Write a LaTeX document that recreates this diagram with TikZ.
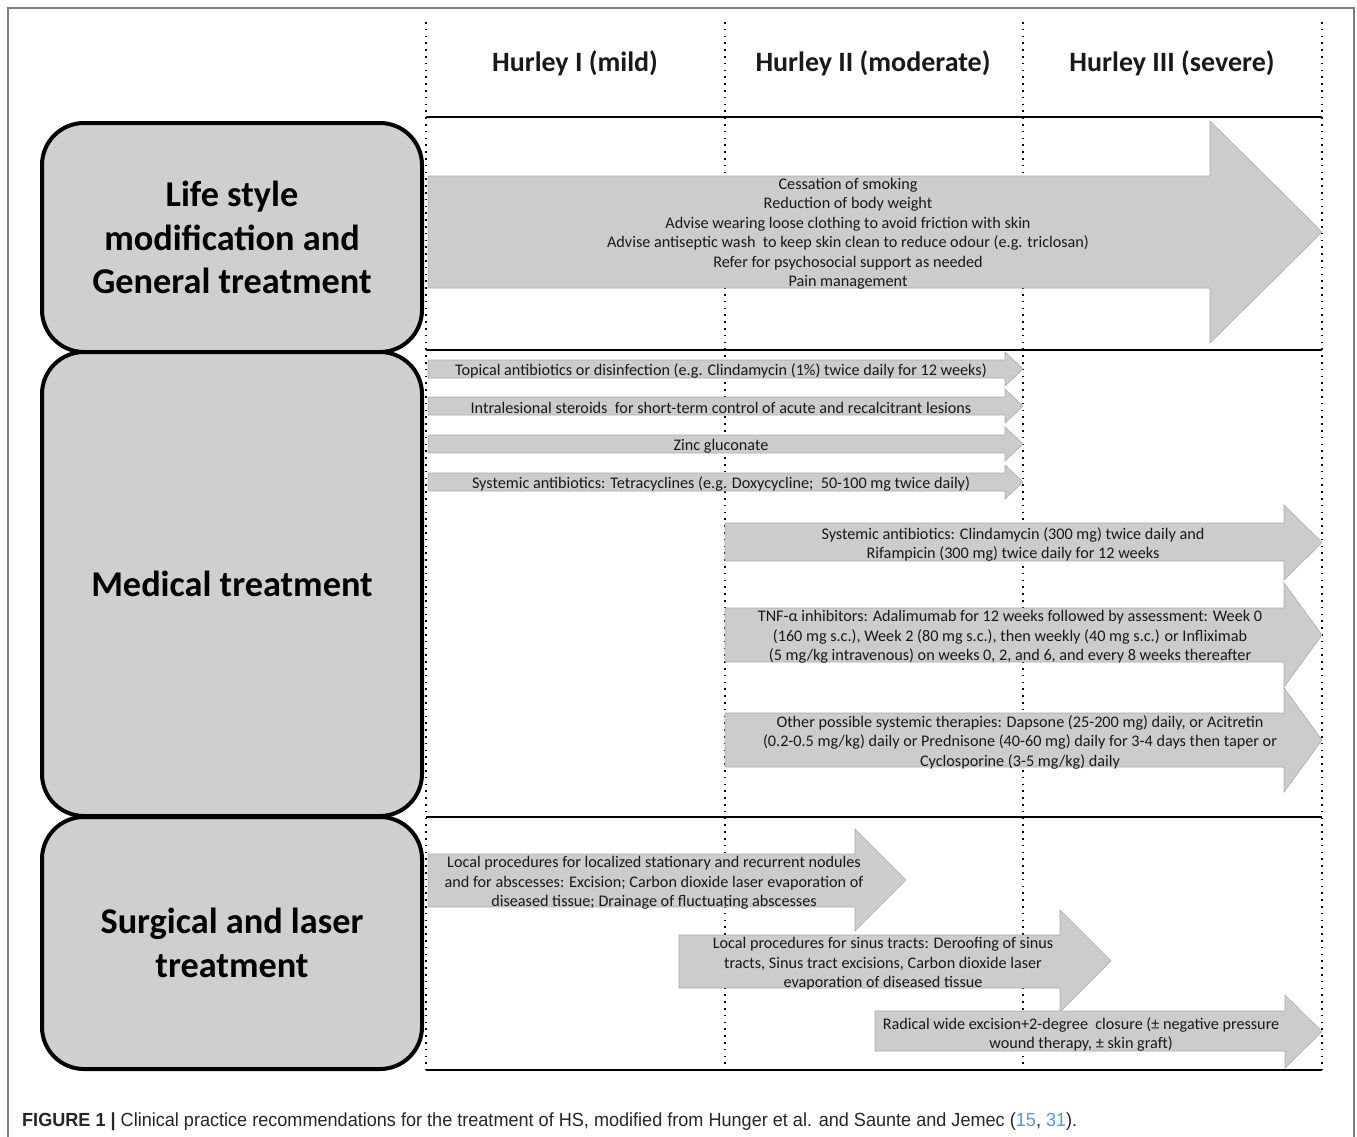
\documentclass[tikz,border=0pt]{standalone}
\usepackage{fontspec}
\setmainfont{Carlito}
\newfontfamily\capfont{Liberation Sans}
\usepackage{graphicx}
\usepackage{xcolor}
\usetikzlibrary{positioning,calc}

\definecolor{boxgray}{RGB}{208,206,206}
\definecolor{arrowgray}{RGB}{204,204,204}
\definecolor{arrowedge}{RGB}{170,170,170}
\definecolor{framegray}{RGB}{125,125,125}
\definecolor{citeblue}{RGB}{95,150,200}

\tikzset{
  catbox/.style={draw, line width=4pt, fill=boxgray, rounded corners=42pt,
    minimum width=380pt, align=center, font=\fontsize{36.3}{43.5}\selectfont\bfseries},
  hurley/.style={font=\fontsize{28}{32}\selectfont\bfseries, text=black!90},
  arrtext/.style={align=center, inner sep=0pt, yshift=-2pt,
    font=\fontsize{16.2}{19.5}\selectfont, text=black!90},
  treat/.style={fill=arrowgray, draw=arrowedge, line width=0.6pt},
  rule/.style={line width=2pt},
  griddots/.style={line width=1.6pt, dash pattern=on 1.6pt off 5.2pt}
}

% \tarrow{x start}{x head}{x tip}{shaft top}{shaft bottom}{head top}{head bottom}
\newcommand{\tarrow}[7]{%
  \draw[treat] (#1,#4) -- (#2,#4) -- (#2,#6) -- (#3,{(#6+#7)/2}) -- (#2,#7)
    -- (#2,#5) -- (#1,#5) -- cycle;}

\begin{document}
\begin{tikzpicture}[x=1pt, y=-1pt]
  \useasboundingbox (0,0) rectangle (1357,1136);
  % outer frame (open at the bottom)
  \draw[framegray, line width=1.5pt] (8,1140) -- (8,8) -- (1354,8) -- (1354,1140);

  % column separators
  \foreach \x in {426,725,1023,1322} {
    \draw[griddots] (\x,22) -- (\x,1070);
  }
  % row rules
  \foreach \y in {117,350,817,1070} {
    \draw[rule] (426,\y) -- (1322,\y);
  }

  % stage headers
  \node[hurley] (hurleyI) at (575,63) {Hurley I (mild)};
  \node[hurley] (hurleyII) at (873,63) {Hurley II (moderate)};
  \node[hurley] (hurleyIII) at (1172,63) {Hurley III (severe)};

  % category boxes
  \node[catbox, minimum height=229pt] (lifebox) at (232,237.5)
    {Life style\\modification and\\General treatment};
  \node[catbox, minimum height=464pt] (medbox) at (232,584) {Medical treatment};
  \node[catbox, minimum height=252pt] (surgbox) at (232,943)
    {Surgical and laser\\treatment};

  % life style arrow
  \tarrow{428}{1210}{1322}{176}{288}{121}{343}
  \node[arrtext] (lifetext) at (848,232) {Cessation of smoking\\Reduction of body weight\\
    Advise wearing loose clothing to avoid friction with skin\\
    Advise antiseptic wash\ \ to keep skin clean to reduce odour (e.g. triclosan)\\
    Refer for psychosocial support as needed\\Pain management};

  % medical arrows, Hurley I--II
  \tarrow{428}{1005}{1023}{360}{378}{352}{386}
  \node[arrtext] (topical) at (721,369)
    {Topical antibiotics or disinfection (e.g. Clindamycin (1\%) twice daily for 12 weeks)};
  \tarrow{428}{1005}{1023}{397}{415}{389}{423}
  \node[arrtext] (steroid) at (721,406)
    {Intralesional steroids\ \ for short-term control of acute and recalcitrant lesions};
  \tarrow{428}{1005}{1023}{435}{453}{427}{461}
  \node[arrtext] (zinc) at (721,444) {Zinc gluconate};
  \tarrow{428}{1005}{1023}{473}{491}{465}{499}
  \node[arrtext] (tetra) at (721,482)
    {Systemic antibiotics: Tetracyclines (e.g. Doxycycline;\ \ 50-100 mg twice daily)};

  % medical arrows, Hurley II--III
  \tarrow{725}{1284}{1322}{523}{561}{505}{580}
  \node[arrtext] (clinda) at (1013,542.5)
    {Systemic antibiotics: Clindamycin (300 mg) twice daily and\\
     Rifampicin (300 mg) twice daily for 12 weeks};
  \tarrow{725}{1284}{1322}{608}{662}{583}{687}
  \node[arrtext] (tnf) at (1010,635)
    {TNF-α inhibitors: Adalimumab for 12 weeks followed by assessment: Week 0\\
     (160 mg s.c.), Week 2 (80 mg s.c.), then weekly (40 mg s.c.) or Infliximab\\
     (5 mg/kg intravenous) on weeks 0, 2, and 6, and every 8 weeks thereafter};
  \tarrow{725}{1284}{1322}{713}{767}{688}{792}
  \node[arrtext] (other) at (1020,740)
    {Other possible systemic therapies: Dapsone (25-200 mg) daily, or Acitretin\\
     (0.2-0.5 mg/kg) daily or Prednisone (40-60 mg) daily for 3-4 days then taper or\\
     Cyclosporine (3-5 mg/kg) daily};

  % surgical arrows
  \tarrow{428}{855}{906}{854}{907}{829}{931}
  \node[arrtext] (localnod) at (654,881)
    {Local procedures for localized stationary and recurrent nodules\\
     and for abscesses: Excision; Carbon dioxide laser evaporation of\\
     diseased tissue; Drainage of fluctuating abscesses};
  \tarrow{679}{1060}{1111}{935}{988}{910}{1012}
  \node[arrtext] (sinus) at (883,962)
    {Local procedures for sinus tracts: Deroofing of sinus\\
     tracts, Sinus tract excisions, Carbon dioxide laser\\
     evaporation of diseased tissue};
  \tarrow{875}{1285}{1322}{1011}{1051}{995}{1068}
  \node[arrtext] (radical) at (1081,1032.5)
    {Radical wide excision+2-degree\ \ closure (± negative pressure\\
     wound therapy, ± skin graft)};

  % caption
  \node[anchor=base west, inner sep=0pt, text=black!85,
    font=\capfont\fontsize{19}{22}\selectfont] (caption) at (22,1126)
    {\resizebox{1055pt}{\height}{\textbf{FIGURE 1 |} Clinical practice recommendations for the
     treatment of HS, modified from Hunger et al. and Saunte and Jemec
     (\textcolor{citeblue}{15}, \textcolor{citeblue}{31}).}};
\end{tikzpicture}
\end{document}
